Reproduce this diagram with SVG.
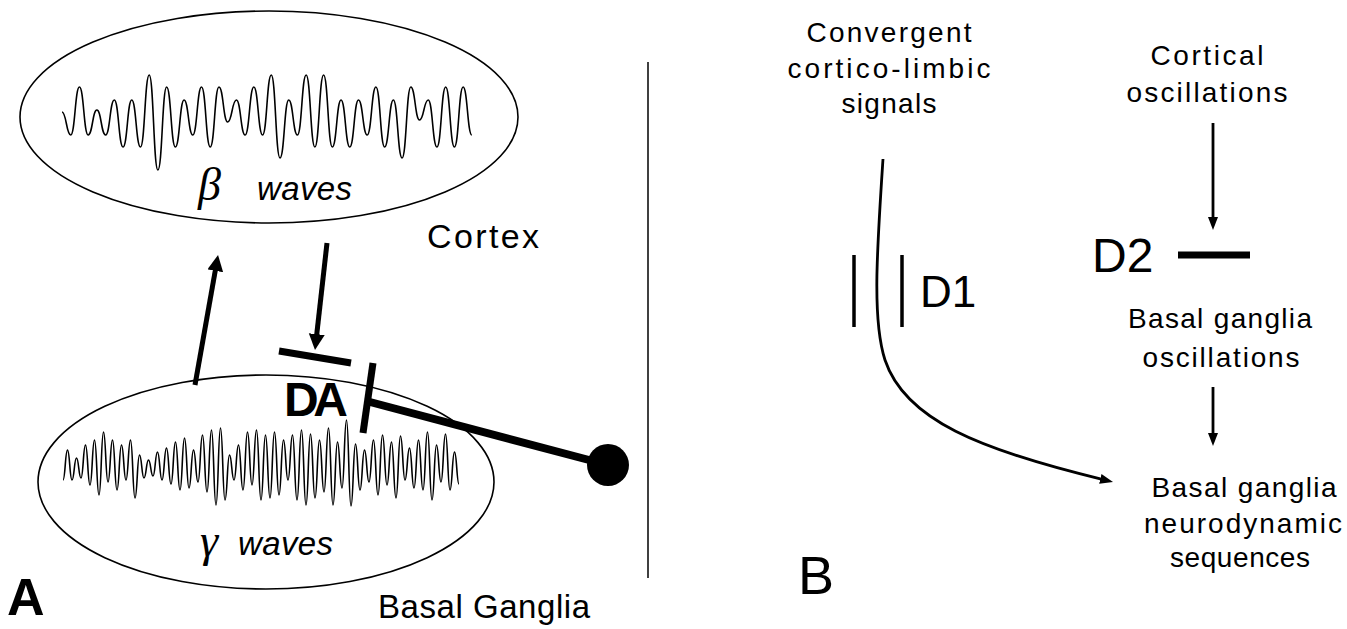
<svg xmlns="http://www.w3.org/2000/svg" width="1347" height="629" viewBox="0 0 1347 629">
<style>
  .lbl { font-family: "Liberation Sans", "DejaVu Sans", sans-serif; fill: #000; }
  .greek { font-family: "Liberation Serif", "DejaVu Serif", serif; font-style: italic; fill: #000; }
  .ital { font-family: "Liberation Sans", "DejaVu Sans", sans-serif; font-style: italic; fill: #000; }
  .ell { fill: none; stroke: #000; stroke-width: 1.6; }
  .wave { fill: none; stroke: #000; stroke-width: 1.6; stroke-linejoin: round; }
  .thick { stroke: #000; stroke-width: 5; fill: none; }
  .bar { stroke: #000; stroke-width: 7; fill: none; }
  .thin { stroke: #000; stroke-width: 2.8; fill: none; }
</style>
<defs>
  <marker id="headBig" markerUnits="userSpaceOnUse" markerWidth="17" markerHeight="17" refX="6" refY="8" orient="auto">
    <path d="M0,0 L16,8 L0,16 z" fill="#000"/>
  </marker>
  <marker id="headSmall" markerUnits="userSpaceOnUse" markerWidth="14" markerHeight="12" refX="5" refY="5" orient="auto">
    <path d="M0,0 L13,5 L0,10 z" fill="#000"/>
  </marker>
</defs>
<rect width="1347" height="629" fill="#fff"/>

<!-- Panel A -->
<g id="cortex">
  <ellipse class="ell" cx="269" cy="117" rx="249" ry="106"/>
  <path class="wave" d="M62,112 c4.36,0 4.36,23 8.72,23 c4.36,0 4.36,-48 8.72,-48 c4.36,0 4.36,48 8.72,48 c4.36,0 4.36,-25 8.72,-25 c4.36,0 4.36,25 8.72,25 c4.36,0 4.36,-35 8.72,-35 c4.36,0 4.36,47 8.72,47 c4.36,0 4.36,-47 8.72,-47 c4.36,0 4.36,47 8.72,47 c4.36,0 4.36,-72 8.72,-72 c4.36,0 4.36,95 8.72,95 c4.36,0 4.36,-83 8.72,-83 c4.36,0 4.36,60 8.72,60 c4.36,0 4.36,-47 8.72,-47 c4.36,0 4.36,35 8.72,35 c4.36,0 4.36,-48 8.72,-48 c4.36,0 4.36,60 8.72,60 c4.36,0 4.36,-60 8.72,-60 c4.36,0 4.36,35 8.72,35 c4.36,0 4.36,-22 8.72,-22 c4.36,0 4.36,35 8.72,35 c4.36,0 4.36,-48 8.72,-48 c4.36,0 4.36,48 8.72,48 c4.36,0 4.36,-60 8.72,-60 c4.36,0 4.36,83 8.72,83 c4.36,0 4.36,-58 8.72,-58 c4.36,0 4.36,35 8.72,35 c4.36,0 4.36,-60 8.72,-60 c4.36,0 4.36,72 8.72,72 c4.36,0 4.36,-72 8.72,-72 c4.36,0 4.36,72 8.72,72 c4.36,0 4.36,-47 8.72,-47 c4.36,0 4.36,47 8.72,47 c4.36,0 4.36,-47 8.72,-47 c4.36,0 4.36,35 8.72,35 c4.36,0 4.36,-48 8.72,-48 c4.36,0 4.36,60 8.72,60 c4.36,0 4.36,-47 8.72,-47 c4.36,0 4.36,58 8.72,58 c4.36,0 4.36,-71 8.72,-71 c4.36,0 4.36,33 8.72,33 c4.36,0 4.36,-20 8.72,-20 c4.36,0 4.36,47 8.72,47 c4.36,0 4.36,-60 8.72,-60 c4.36,0 4.36,60 8.72,60 c4.36,0 4.36,-60 8.72,-60 c4.36,0 4.36,48 8.72,48"/>
  <text class="greek" x="198" y="200" font-size="46">β</text>
  <text class="ital" x="257" y="200" font-size="33" textLength="95">waves</text>
  <text class="lbl" x="427" y="248" font-size="34" textLength="112">Cortex</text>
</g>

<g id="basal-ganglia">
  <ellipse class="ell" cx="266" cy="482" rx="228" ry="107"/>
  <path class="wave" d="M63,480 c2.25,0 2.25,-30 4.5,-30 c2.25,0 2.25,30 4.5,30 c2.25,0 2.25,-22 4.5,-22 c2.25,0 2.25,20 4.5,20 c2.25,0 2.25,-33 4.5,-33 c2.25,0 2.25,40 4.5,40 c2.25,0 2.25,-45 4.5,-45 c2.25,0 2.25,55 4.5,55 c2.25,0 2.25,-63 4.5,-63 c2.25,0 2.25,50 4.5,50 c2.25,0 2.25,-42 4.5,-42 c2.25,0 2.25,50 4.5,50 c2.25,0 2.25,-45 4.5,-45 c2.25,0 2.25,35 4.5,35 c2.25,0 2.25,-40 4.5,-40 c2.25,0 2.25,58 4.5,58 c2.25,0 2.25,-43 4.5,-43 c2.25,0 2.25,23 4.5,23 c2.25,0 2.25,-18 4.5,-18 c2.25,0 2.25,16 4.5,16 c2.25,0 2.25,-24 4.5,-24 c2.25,0 2.25,28 4.5,28 c2.25,0 2.25,-32 4.5,-32 c2.25,0 2.25,36 4.5,36 c2.25,0 2.25,-42 4.5,-42 c2.25,0 2.25,48 4.5,48 c2.25,0 2.25,-52 4.5,-52 c2.25,0 2.25,50 4.5,50 c2.25,0 2.25,-38 4.5,-38 c2.25,0 2.25,32 4.5,32 c2.25,0 2.25,-47 4.5,-47 c2.25,0 2.25,57 4.5,57 c2.25,0 2.25,-62 4.5,-62 c2.25,0 2.25,75 4.5,75 c2.25,0 2.25,-77 4.5,-77 c2.25,0 2.25,72 4.5,72 c2.25,0 2.25,-45 4.5,-45 c2.25,0 2.25,25 4.5,25 c2.25,0 2.25,-35 4.5,-35 c2.25,0 2.25,45 4.5,45 c2.25,0 2.25,-58 4.5,-58 c2.25,0 2.25,53 4.5,53 c2.25,0 2.25,-55 4.5,-55 c2.25,0 2.25,70 4.5,70 c2.25,0 2.25,-65 4.5,-65 c2.25,0 2.25,63 4.5,63 c2.25,0 2.25,-66 4.5,-66 c2.25,0 2.25,63 4.5,63 c2.25,0 2.25,-55 4.5,-55 c2.25,0 2.25,40 4.5,40 c2.25,0 2.25,-45 4.5,-45 c2.25,0 2.25,65 4.5,65 c2.25,0 2.25,-70 4.5,-70 c2.25,0 2.25,75 4.5,75 c2.25,0 2.25,-71 4.5,-71 c2.25,0 2.25,64 4.5,64 c2.25,0 2.25,-58 4.5,-58 c2.25,0 2.25,52 4.5,52 c2.25,0 2.25,-64 4.5,-64 c2.25,0 2.25,77 4.5,77 c2.25,0 2.25,-63 4.5,-63 c2.25,0 2.25,46 4.5,46 c2.25,0 2.25,-68 4.5,-68 c2.25,0 2.25,86 4.5,86 c2.25,0 2.25,-62 4.5,-62 c2.25,0 2.25,46 4.5,46 c2.25,0 2.25,-40 4.5,-40 c2.25,0 2.25,32 4.5,32 c2.25,0 2.25,-42 4.5,-42 c2.25,0 2.25,55 4.5,55 c2.25,0 2.25,-60 4.5,-60 c2.25,0 2.25,50 4.5,50 c2.25,0 2.25,-43 4.5,-43 c2.25,0 2.25,56 4.5,56 c2.25,0 2.25,-62 4.5,-62 c2.25,0 2.25,44 4.5,44 c2.25,0 2.25,-32 4.5,-32 c2.25,0 2.25,40 4.5,40 c2.25,0 2.25,-48 4.5,-48 c2.25,0 2.25,50 4.5,50 c2.25,0 2.25,-58 4.5,-58 c2.25,0 2.25,68 4.5,68 c2.25,0 2.25,-55 4.5,-55 c2.25,0 2.25,37 4.5,37 c2.25,0 2.25,-48 4.5,-48 c2.25,0 2.25,56 4.5,56 c2.25,0 2.25,-38 4.5,-38 c2.25,0 2.25,32 4.5,32"/>
  <text class="greek" x="200" y="556" font-size="46">γ</text>
  <text class="ital" x="238" y="555" font-size="33" textLength="95">waves</text>
  <text class="lbl" x="378" y="618" font-size="33" textLength="212">Basal Ganglia</text>
</g>

<g id="da">
  <text class="lbl" x="284" y="416" font-size="48" font-weight="bold" textLength="64">DA</text>
  <circle cx="608" cy="465" r="21" fill="#000"/>
</g>

<g id="panel-labels">
  <text class="lbl" x="7" y="615" font-size="52" font-weight="bold">A</text>
  <text class="lbl" x="798" y="594" font-size="54">B</text>
</g>

<g id="connectors">
  <line class="thick" x1="195" y1="385" x2="216.3" y2="264.9" marker-end="url(#headBig)"/>
  <line class="thick" x1="327" y1="243" x2="316.1" y2="340.1" marker-end="url(#headBig)"/>
  <line class="bar" x1="279" y1="351" x2="351" y2="363"/>
  <line class="bar" x1="373" y1="363" x2="363" y2="433"/>
  <line stroke="#000" stroke-width="8" x1="370" y1="402" x2="608" y2="465"/>

  <line x1="648" y1="62" x2="648" y2="578" stroke="#000" stroke-width="1.5"/>

  <path class="thin" d="M883,159 C877,250 872,320 885,360 C905,420 980,450 1105.2,480.1" marker-end="url(#headSmall)"/>
  <line stroke="#000" stroke-width="3.5" x1="854" y1="255" x2="854" y2="327"/>
  <line stroke="#000" stroke-width="3.5" x1="902" y1="255" x2="902" y2="327"/>
  <line class="thin" x1="1213" y1="123" x2="1213" y2="222" marker-end="url(#headSmall)"/>
  <line class="bar" x1="1178" y1="255" x2="1250" y2="255"/>
  <line class="thin" x1="1213" y1="387" x2="1213" y2="438" marker-end="url(#headSmall)"/>
</g>

<!-- Panel B -->
<g id="convergent">
  <text class="lbl" text-anchor="middle" x="889" y="42" font-size="28" textLength="165">Convergent</text>
  <text class="lbl" text-anchor="middle" x="889" y="78" font-size="28" textLength="203">cortico-limbic</text>
  <text class="lbl" text-anchor="middle" x="889" y="113" font-size="28" textLength="95">signals</text>
</g>
<g id="d1">
  <text class="lbl" x="920" y="307" font-size="44">D1</text>
</g>
<g id="cortical-oscillations">
  <text class="lbl" text-anchor="middle" x="1207" y="65" font-size="28" textLength="113">Cortical</text>
  <text class="lbl" text-anchor="middle" x="1207" y="102" font-size="28" textLength="161">oscillations</text>
</g>
<g id="d2">
  <text class="lbl" x="1092" y="272" font-size="48">D2</text>
</g>
<g id="bg-oscillations">
  <text class="lbl" text-anchor="middle" x="1220" y="328" font-size="28" textLength="184">Basal ganglia</text>
  <text class="lbl" text-anchor="middle" x="1221" y="367" font-size="28" textLength="157">oscillations</text>
</g>
<g id="bg-sequences">
  <text class="lbl" text-anchor="middle" x="1244" y="497" font-size="28" textLength="185">Basal ganglia</text>
  <text class="lbl" text-anchor="middle" x="1243" y="533" font-size="28" textLength="198">neurodynamic</text>
  <text class="lbl" text-anchor="middle" x="1240" y="567" font-size="28" textLength="140">sequences</text>
</g>
</svg>
